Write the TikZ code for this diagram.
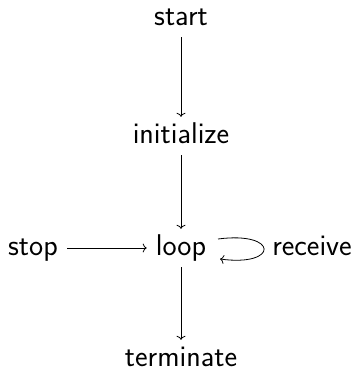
\documentclass[tikz,border=0pt]{standalone}
\usetikzlibrary{arrows.meta,calc}
\begin{document}
\begin{tikzpicture}[x=1pt,y=-1pt,
  lbl/.style={font=\sffamily\fontsize{30}{36}\selectfont,
    text height=21pt, text depth=7pt, inner xsep=9pt, inner ysep=5pt, anchor=base},
  arr/.style={-{To[length=4pt,width=9pt]}, line width=0.8pt}]
  \useasboundingbox (0,0) rectangle (356,380);
  % states
  \node[lbl] (start) at (181,25)  {start};
  \node[lbl] (init)  at (181,143) {initialize};
  \node[lbl] (loop)  at (181,255) {loop};
  \node[lbl] (term)  at (181,366) {terminate};
  \node[lbl] (stop)  at (33,255)  {stop};
  \node[lbl] (recv)  at (312,255) {receive};
  % transitions
  \draw[arr] (start) -- (init);
  \draw[arr] (init) -- (loop);
  \draw[arr] (loop) -- (term);
  \draw[arr] (stop) -- (loop);
  \draw[arr] ($(loop.base)+(37,-16)$)
     .. controls ($(loop.base)+(98,-24)$) and ($(loop.base)+(98,12)$)
     .. ($(loop.base)+(39,4)$);
\end{tikzpicture}
\end{document}
